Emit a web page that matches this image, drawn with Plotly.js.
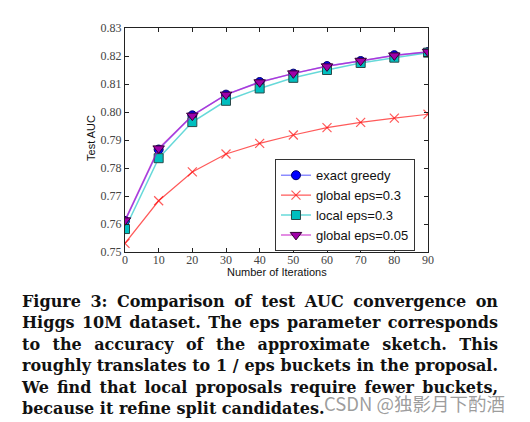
<!DOCTYPE html>
<html>
<head>
<meta charset="utf-8">
<script src="https://cdn.plot.ly/plotly-3.0.1.min.js"></script>
<style>
  html, body { margin: 0; padding: 0; background: #fff; width: 530px; height: 422px; overflow: hidden; }
  #plot { position: absolute; left: 0; top: 0; width: 530px; height: 422px; }
  #caption { position: absolute; left: 22px; top: 291px; width: 476px; font-family: "DejaVu Serif", serif; font-weight: bold; font-size: 16px; line-height: 21.4px; color: #111; }
  #caption div { text-align: justify; text-align-last: justify; white-space: normal; }
  #caption div.last { text-align-last: left; }
  #wm { position: absolute; left: 324px; top: 394px; height: 18px; line-height: 18px; font-family: "Noto Sans CJK SC", "Noto Sans", sans-serif; font-size: 18.5px; color: rgba(140,140,140,0.85); white-space: nowrap; }
</style>
</head>
<body>
<div id="plot"></div>
<div id="caption"></div>
<div id="wm"></div>
<script>
// ---- data ----
const iterations = [0, 10, 20, 30, 40, 50, 60, 70, 80, 90];
const exactGreedy = [0.7611, 0.7866, 0.7988, 0.8062, 0.8107, 0.8137, 0.8164, 0.8182, 0.8203, 0.8214];
const globalEps03 = [0.7531, 0.7683, 0.7786, 0.7850, 0.7888, 0.7918, 0.7944, 0.7963, 0.7978, 0.7992];
const localEps03 = [0.7582, 0.7835, 0.7964, 0.8040, 0.8084, 0.8122, 0.8150, 0.8175, 0.8194, 0.8212];
const globalEps005 = [0.7613, 0.7870, 0.7987, 0.8062, 0.8106, 0.8138, 0.8163, 0.8183, 0.8202, 0.8215];
const seriesNames = ["exact greedy", "global eps=0.3", "local eps=0.3", "global eps=0.05"];
const xTickVals = [0, 10, 20, 30, 40, 50, 60, 70, 80, 90];
const yTickVals = [0.75, 0.76, 0.77, 0.78, 0.79, 0.80, 0.81, 0.82, 0.83];
const xTitle = "Number of Iterations";
const yTitle = "Test AUC";
const captionLines = [
  "Figure 3: Comparison of test AUC convergence on",
  "Higgs 10M dataset. The eps parameter corresponds",
  "to the accuracy of the approximate sketch.  This",
  "roughly translates to 1 / eps buckets in the proposal.",
  "We find that local proposals require fewer buckets,",
  "because it refine split candidates."
];
const watermark = "CSDN @独影月下酌酒";

// ---- traces ----
const traces = [
  { x: iterations, y: exactGreedy, name: seriesNames[0], mode: "lines+markers",
    line: { color: "rgba(0,0,255,0.45)", width: 1.5 },
    marker: { symbol: "circle", size: 9, color: "#0000ff", line: { color: "#000066", width: 1 } } },
  { x: iterations, y: globalEps03, name: seriesNames[1], mode: "lines+markers",
    line: { color: "rgba(255,0,0,0.65)", width: 1.2 },
    marker: { symbol: "x-thin", size: 9, color: "rgba(255,0,0,0.65)", line: { color: "rgba(255,0,0,0.65)", width: 1.2 } } },
  { x: iterations, y: localEps03, name: seriesNames[2], mode: "lines+markers",
    line: { color: "rgba(0,191,191,0.6)", width: 1.5 },
    marker: { symbol: "square", size: 9, color: "#00bfbf", line: { color: "#2a4a4a", width: 1 } } },
  { x: iterations, y: globalEps005, name: seriesNames[3], mode: "lines+markers",
    line: { color: "rgba(191,0,191,0.6)", width: 1.5 },
    marker: { symbol: "triangle-down", size: 10, color: "#a000a8", line: { color: "#330033", width: 1 } } }
];

const axisCommon = {
  showgrid: false, zeroline: false, showline: true, linecolor: "#222", linewidth: 1,
  mirror: "ticks", ticks: "inside", ticklen: 4, tickwidth: 1, tickcolor: "#222",
  tickfont: { family: "'Liberation Serif', 'DejaVu Serif', serif", size: 12, color: "#444" }
};

const titleFont = { family: "'Liberation Sans', Arial, sans-serif", size: 11, color: "#111" };

const layout = {
  width: 530, height: 422,
  margin: { l: 125, r: 102, t: 28, b: 170, pad: 0 },
  paper_bgcolor: "#fff", plot_bgcolor: "#fff",
  showlegend: true,
  xaxis: Object.assign({}, axisCommon, {
    range: [0, 90], tickvals: xTickVals, ticktext: xTickVals.map(String), ticklabelstandoff: -3
  }),
  yaxis: Object.assign({}, axisCommon, {
    range: [0.75, 0.83], tickvals: yTickVals, ticktext: yTickVals.map(v => v.toFixed(2))
  }),
  annotations: [
    { text: xTitle, xref: "paper", yref: "paper", x: 0.503, y: -0.089, xanchor: "center", yanchor: "middle",
      showarrow: false, font: titleFont },
    { text: yTitle, xref: "paper", yref: "paper", x: -0.11, y: 0.508, xanchor: "center", yanchor: "middle",
      textangle: -90, showarrow: false, font: titleFont }
  ],
  legend: {
    x: 0.495, y: 0.414, xanchor: "left", yanchor: "top",
    bgcolor: "#fff", bordercolor: "#333", borderwidth: 1,
    font: { family: "'Liberation Sans', Arial, sans-serif", size: 13, color: "#111" },
    tracegroupgap: 0
  }
};

Plotly.newPlot("plot", traces, layout, { staticPlot: true, displayModeBar: false });

const cap = document.getElementById("caption");
captionLines.forEach((t, i) => {
  const d = document.createElement("div");
  d.textContent = t;
  if (i === captionLines.length - 1) d.className = "last";
  cap.appendChild(d);
});
document.getElementById("wm").textContent = watermark;
</script>
</body>
</html>
